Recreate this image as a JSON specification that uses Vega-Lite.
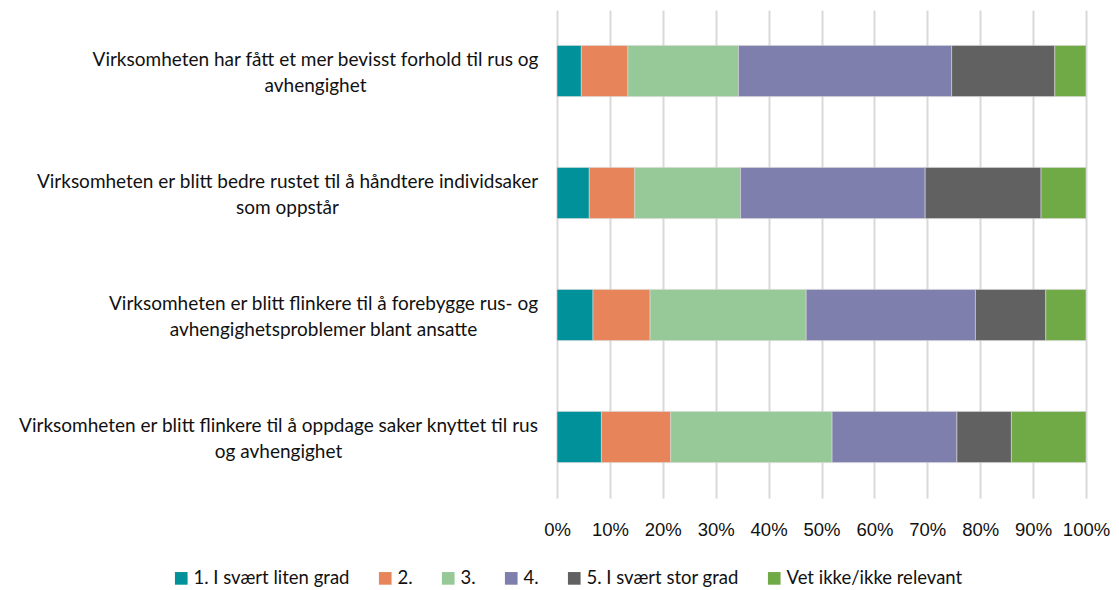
{
  "$schema": "https://vega.github.io/schema/vega-lite/v6.json",
  "width": 529,
  "height": 488,
  "autosize": {"type": "none"},
  "padding": {"left": 557, "top": 10, "right": 33, "bottom": 92},
  "background": "white",
  "config": {"view": {"stroke": null}, "font": "Liberation Sans"},
  "data": {
    "values": [
      {"q": "Virksomheten har fått et mer bevisst forhold til rus og|avhengighet", "r": "1. I svært liten grad", "o": 1, "v": 0.046},
      {"q": "Virksomheten har fått et mer bevisst forhold til rus og|avhengighet", "r": "2.", "o": 2, "v": 0.088},
      {"q": "Virksomheten har fått et mer bevisst forhold til rus og|avhengighet", "r": "3.", "o": 3, "v": 0.209},
      {"q": "Virksomheten har fått et mer bevisst forhold til rus og|avhengighet", "r": "4.", "o": 4, "v": 0.403},
      {"q": "Virksomheten har fått et mer bevisst forhold til rus og|avhengighet", "r": "5. I svært stor grad", "o": 5, "v": 0.195},
      {"q": "Virksomheten har fått et mer bevisst forhold til rus og|avhengighet", "r": "Vet ikke/ikke relevant", "o": 6, "v": 0.059},
      {"q": "Virksomheten er blitt bedre rustet til å håndtere individsaker|som oppstår", "r": "1. I svært liten grad", "o": 1, "v": 0.061},
      {"q": "Virksomheten er blitt bedre rustet til å håndtere individsaker|som oppstår", "r": "2.", "o": 2, "v": 0.086},
      {"q": "Virksomheten er blitt bedre rustet til å håndtere individsaker|som oppstår", "r": "3.", "o": 3, "v": 0.200},
      {"q": "Virksomheten er blitt bedre rustet til å håndtere individsaker|som oppstår", "r": "4.", "o": 4, "v": 0.349},
      {"q": "Virksomheten er blitt bedre rustet til å håndtere individsaker|som oppstår", "r": "5. I svært stor grad", "o": 5, "v": 0.219},
      {"q": "Virksomheten er blitt bedre rustet til å håndtere individsaker|som oppstår", "r": "Vet ikke/ikke relevant", "o": 6, "v": 0.085},
      {"q": "Virksomheten er blitt flinkere til å forebygge rus- og|avhengighetsproblemer blant ansatte", "r": "1. I svært liten grad", "o": 1, "v": 0.068},
      {"q": "Virksomheten er blitt flinkere til å forebygge rus- og|avhengighetsproblemer blant ansatte", "r": "2.", "o": 2, "v": 0.108},
      {"q": "Virksomheten er blitt flinkere til å forebygge rus- og|avhengighetsproblemer blant ansatte", "r": "3.", "o": 3, "v": 0.295},
      {"q": "Virksomheten er blitt flinkere til å forebygge rus- og|avhengighetsproblemer blant ansatte", "r": "4.", "o": 4, "v": 0.320},
      {"q": "Virksomheten er blitt flinkere til å forebygge rus- og|avhengighetsproblemer blant ansatte", "r": "5. I svært stor grad", "o": 5, "v": 0.133},
      {"q": "Virksomheten er blitt flinkere til å forebygge rus- og|avhengighetsproblemer blant ansatte", "r": "Vet ikke/ikke relevant", "o": 6, "v": 0.076},
      {"q": "Virksomheten er blitt flinkere til å oppdage saker knyttet til rus|og avhengighet", "r": "1. I svært liten grad", "o": 1, "v": 0.084},
      {"q": "Virksomheten er blitt flinkere til å oppdage saker knyttet til rus|og avhengighet", "r": "2.", "o": 2, "v": 0.131},
      {"q": "Virksomheten er blitt flinkere til å oppdage saker knyttet til rus|og avhengighet", "r": "3.", "o": 3, "v": 0.305},
      {"q": "Virksomheten er blitt flinkere til å oppdage saker knyttet til rus|og avhengighet", "r": "4.", "o": 4, "v": 0.236},
      {"q": "Virksomheten er blitt flinkere til å oppdage saker knyttet til rus|og avhengighet", "r": "5. I svært stor grad", "o": 5, "v": 0.103},
      {"q": "Virksomheten er blitt flinkere til å oppdage saker knyttet til rus|og avhengighet", "r": "Vet ikke/ikke relevant", "o": 6, "v": 0.141}
    ]
  },
  "mark": {"type": "bar", "stroke": "#d8d8d8", "strokeWidth": 0.6},
  "encoding": {
    "y": {
      "field": "q",
      "type": "nominal",
      "sort": null,
      "scale": {"paddingInner": 0.58, "paddingOuter": 0.29},
      "axis": {
        "title": null,
        "ticks": false,
        "domain": false,
        "labelExpr": "split(datum.label, '|')",
        "labelFont": "Lato",
        "labelFontSize": 19,
        "labelColor": "#111111",
        "labelAlign": "center",
        "labelPadding": {
          "condition": [
            {"test": "indexof(datum.value, 'bevisst') >= 0", "value": 242},
            {"test": "indexof(datum.value, 'bedre') >= 0", "value": 270},
            {"test": "indexof(datum.value, 'forebygge') >= 0", "value": 234}
          ],
          "value": 279
        },
        "labelOffset": -11,
        "labelLimit": 600,
        "labelLineHeight": 26
      }
    },
    "x": {
      "field": "v",
      "type": "quantitative",
      "stack": "zero",
      "scale": {"domain": [0, 1], "nice": false},
      "axis": {
        "title": null,
        "format": ".0%",
        "values": [0, 0.1, 0.2, 0.3, 0.4, 0.5, 0.6, 0.7, 0.8, 0.9, 1],
        "ticks": false,
        "domain": false,
        "grid": true,
        "gridColor": "#d9d9d9",
        "gridWidth": 2,
        "labelFontSize": 18.5,
        "labelColor": "#111111",
        "labelPadding": 22,
        "labelFlush": false
      }
    },
    "order": {"field": "o", "type": "quantitative"},
    "color": {
      "field": "r",
      "type": "nominal",
      "scale": {
        "domain": ["1. I svært liten grad", "2.", "3.", "4.", "5. I svært stor grad", "Vet ikke/ikke relevant"],
        "range": ["#00919a", "#e8845a", "#96c997", "#7f7fae", "#616161", "#70aa46"]
      },
      "legend": {
        "title": null,
        "orient": "none",
        "direction": "horizontal",
        "legendX": -385,
        "legendY": 559,
        "symbolType": "square",
        "symbolSize": 160,
        "symbolStrokeWidth": 0,
        "labelFont": "Lato",
        "labelFontSize": 18.5,
        "labelColor": "#111111",
        "labelOffset": 3,
        "columnPadding": 26,
        "labelLimit": 300
      }
    }
  }
}
